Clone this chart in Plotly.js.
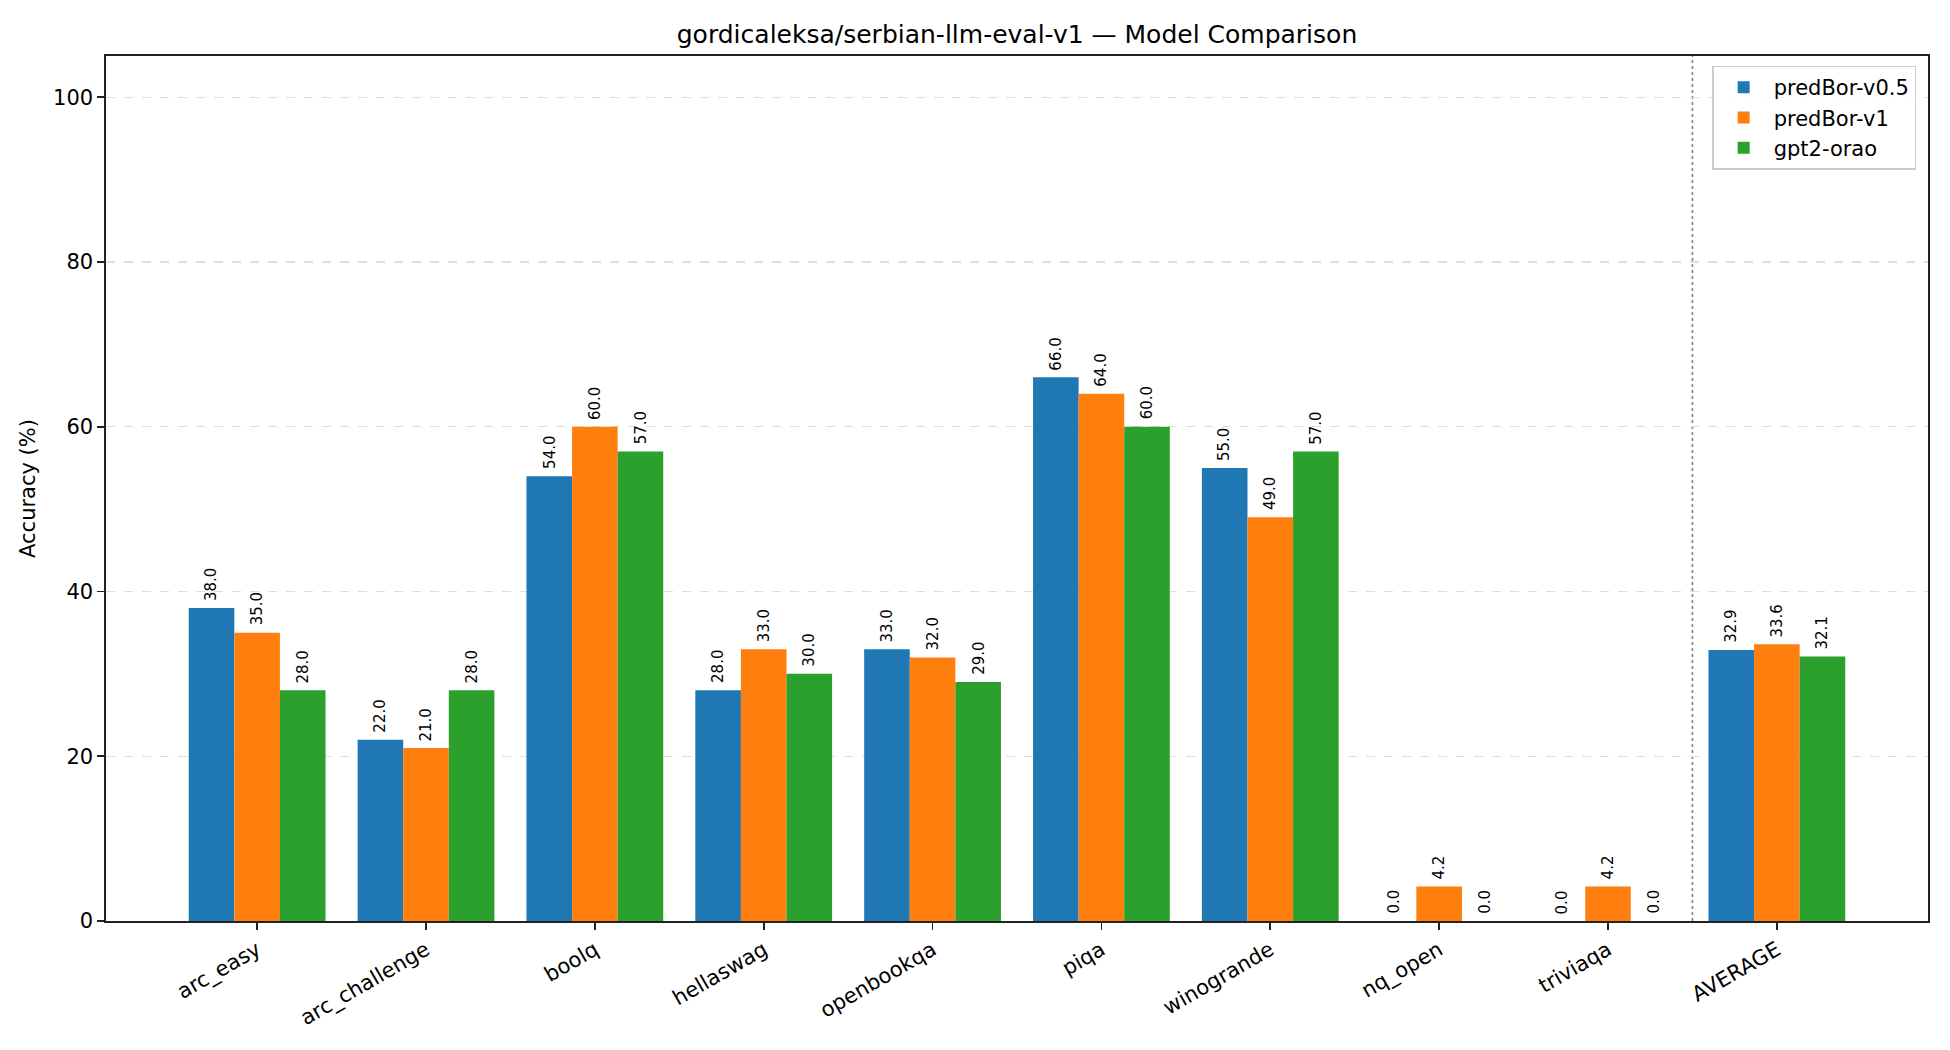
<!DOCTYPE html>
<html><head><meta charset="utf-8">
<script src="https://cdn.plot.ly/plotly-3.0.1.min.js"></script>
<style>html,body{margin:0;padding:0;background:#fff;}#chart{width:1950px;height:1050px;}</style>
</head><body><div id="chart"></div>
<script>
const categories = ["arc_easy","arc_challenge","boolq","hellaswag","openbookqa","piqa","winogrande","nq_open","triviaqa","AVERAGE"];
const predBor_v05 = [38.0, 22.0, 54.0, 28.0, 33.0, 66.0, 55.0, 0.0, 0.0, 32.9];
const predBor_v1  = [35.0, 21.0, 60.0, 33.0, 32.0, 64.0, 49.0, 4.2, 4.2, 33.6];
const gpt2_orao   = [28.0, 28.0, 57.0, 30.0, 29.0, 60.0, 57.0, 0.0, 0.0, 32.1];
const seriesNames = ["predBor-v0.5","predBor-v1","gpt2-orao"];
const seriesColors = ["#1f77b4","#ff7f0e","#2ca02c"];
const seriesValues = [predBor_v05, predBor_v1, gpt2_orao];

const W = 0.27;
const idx = categories.map((_, i) => i);
const font = "DejaVu Sans, sans-serif";

const traces = seriesValues.map((vals, k) => ({
  type: "bar",
  name: seriesNames[k],
  x: idx.map(i => i + (k - 1) * W),
  y: vals,
  width: W,
  marker: {color: seriesColors[k], line: {width: 0}},
  hoverinfo: "skip"
}));

const annotations = [];
seriesValues.forEach((vals, k) => {
  vals.forEach((v, i) => {
    annotations.push({
      x: i + (k - 1) * W, y: v, xref: "x", yref: "y",
      text: v.toFixed(1), showarrow: false, textangle: -90,
      xanchor: "center", yanchor: "bottom", yshift: 5,
      font: {family: font, size: 15, color: "#000"}
    });
  });
});

const layout = {
  width: 1950, height: 1050,
  paper_bgcolor: "#fff", plot_bgcolor: "#fff",
  font: {family: font, color: "#000", size: 21},
  margin: {l: 106, r: 22, t: 56, b: 129, pad: 0},
  title: {text: "gordicaleksa/serbian-llm-eval-v1 — Model Comparison", font: {family: font, size: 25, color: "#000"}, xref: "paper", x: 0.5, xanchor: "center", y: 1 - 34/1050, yanchor: "middle"},
  barmode: "overlay",
  showlegend: true,
  legend: {x: 0.9935, xanchor: "right", y: 0.989, yanchor: "top", bgcolor: "rgba(255,255,255,0.8)", bordercolor: "#cccccc", borderwidth: 1.5, font: {family: font, size: 21}, tracegroupgap: 0, itemwidth: 50},
  xaxis: {
    range: [-0.895, 9.895], tickmode: "array", tickvals: idx, ticktext: categories,
    tickangle: -30, ticks: "outside", ticklen: 7, tickwidth: 1.6, tickcolor: "#222",
    showline: true, linecolor: "#222", linewidth: 1.6, mirror: true, showgrid: false, zeroline: false,
    tickfont: {family: font, size: 21, color: "#000"}
  },
  yaxis: {
    range: [0, 105], tickmode: "array", tickvals: [0,20,40,60,80,100],
    ticks: "outside", ticklen: 7, tickwidth: 1.6, tickcolor: "#222",
    showline: true, linecolor: "#222", linewidth: 1.6, mirror: true,
    showgrid: true, gridcolor: "#dedede", gridwidth: 1.3, griddash: "dash", zeroline: false,
    tickfont: {family: font, size: 21, color: "#000"},
    title: {text: "Accuracy (%)", font: {family: font, size: 21, color: "#000"}, standoff: 12}
  },
  shapes: [{type: "line", xref: "x", yref: "paper", x0: 8.5, x1: 8.5, y0: 0, y1: 1, line: {color: "#808080", width: 1.6, dash: "dot"}, layer: "below"}],
  annotations: annotations
};

Plotly.newPlot("chart", traces, layout, {displayModeBar: false, staticPlot: true});
</script></body></html>
